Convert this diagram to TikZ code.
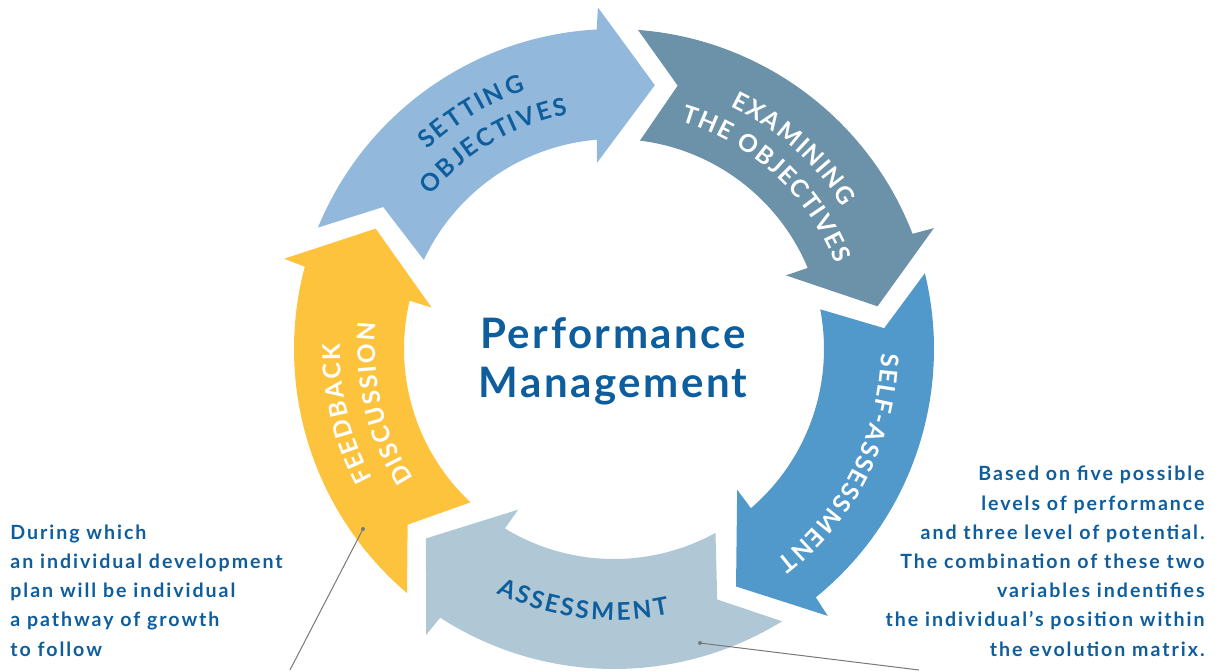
\documentclass[tikz,border=0pt]{standalone}
\usepackage{fontspec}
\setmainfont{Lato}
\newfontfamily\titlefont[LetterSpace=6]{Lato}
\newfontfamily\notefont[LetterSpace=10]{Lato}
\usetikzlibrary{decorations.text}
\definecolor{pmsetting}{RGB}{146,184,219}
\definecolor{pmexamine}{RGB}{107,146,168}
\definecolor{pmself}{RGB}{81,153,203}
\definecolor{pmassess}{RGB}{176,200,213}
\definecolor{pmfeedback}{RGB}{253,195,61}
\definecolor{pmtext}{RGB}{14,94,158}
\definecolor{pmline}{RGB}{120,120,120}

\begin{document}
\begin{tikzpicture}[x=0.5pt,y=0.5pt,
  ringlabel/.style 2 args={decorate,decoration={text effects along path,text={#2},
    text effects/.cd,text along path,fit text to path,every character/.style={text=#1,inner sep=0pt}}},
  notetext/.style={font=\notefont\bfseries\fontsize{9.8}{14.6}\selectfont,text=pmtext,inner sep=0pt}]
  \useasboundingbox (-614,-321) rectangle (601,349);

  % the five ring arrows, one every 72 degrees
  \foreach \a/\col in {157.7/pmsetting,85.7/pmexamine,13.7/pmself,-58.3/pmassess,-130.3/pmfeedback}
    \fill[\col] (\a:320) arc[start angle=\a,end angle=\a-64.6,radius=320]
      -- ({\a-65}:342) -- ({\a-76.5}:267) -- ({\a-62.5}:187) -- ({\a-63}:210)
      arc[start angle=\a-63,end angle=\a-2.8,radius=210] -- ({\a-9.3}:271) -- cycle;

  % curved labels
  \begin{scope}
    \bfseries\fontsize{12.2}{14}\selectfont
    \path[ringlabel={pmtext}{SETTING}] (133.2:273) arc[start angle=133.2,end angle=108.9,radius=273];
    \path[ringlabel={pmtext}{OBJECTIVES}] (140.1:239) arc[start angle=140.1,end angle=101.1,radius=239];
    \path[ringlabel={white}{EXAMINING}] (64.3:269) arc[start angle=64.3,end angle=31.9,radius=269];
    \path[ringlabel={white}{THE OBJECTIVES}] (73.7:237) arc[start angle=73.7,end angle=21.1,radius=237];
    \path[ringlabel={white}{SELF-ASSESSMENT}] (-1:267) arc[start angle=-1,end angle=-52.5,radius=267];
    \path[ringlabel={pmtext}{ASSESSMENT}] (244.2:271) arc[start angle=244.2,end angle=281.8,radius=271];
    \path[ringlabel={white}{FEEDBACK}] (208.3:274) arc[start angle=208.3,end angle=178.9,radius=274];
    \path[ringlabel={white}{DISCUSSION}] (212.9:239) arc[start angle=212.9,end angle=173.7,radius=239];
  \end{scope}

  % anchors sit on the last baseline of each block
  \node[font=\titlefont\bfseries\fontsize{21}{24.5}\selectfont,text=pmtext,align=center,anchor=base] (title) at (-1,-48) {Performance\\Management};

  \node[notetext,align=left,anchor=base west] (plannote) at (-604,-307)
    {During which\\an individual development\\plan will be individual\\a pathway of growth\\to follow};
  \node[notetext,align=right,anchor=base east] (matrixnote) at (591,-307)
    {Based on five possible\\levels of performance\\and three level of potential.\\The combination of these two\\variables indentifies\\the individual’s position within\\the evolution matrix.};

  % leader lines
  \coordinate (feeddot) at (-251,-180);
  \coordinate (feedend) at (-324,-321);
  \coordinate (assessdot) at (86,-294);
  \coordinate (assessend) at (305,-321);
  \draw[pmline,line width=0.5pt] (feeddot) -- (feedend);
  \draw[pmline,line width=0.5pt] (assessdot) -- (assessend);
  \fill[pmline] (feeddot) circle[radius=2];
  \fill[pmline] (assessdot) circle[radius=2];
\end{tikzpicture}
\end{document}
